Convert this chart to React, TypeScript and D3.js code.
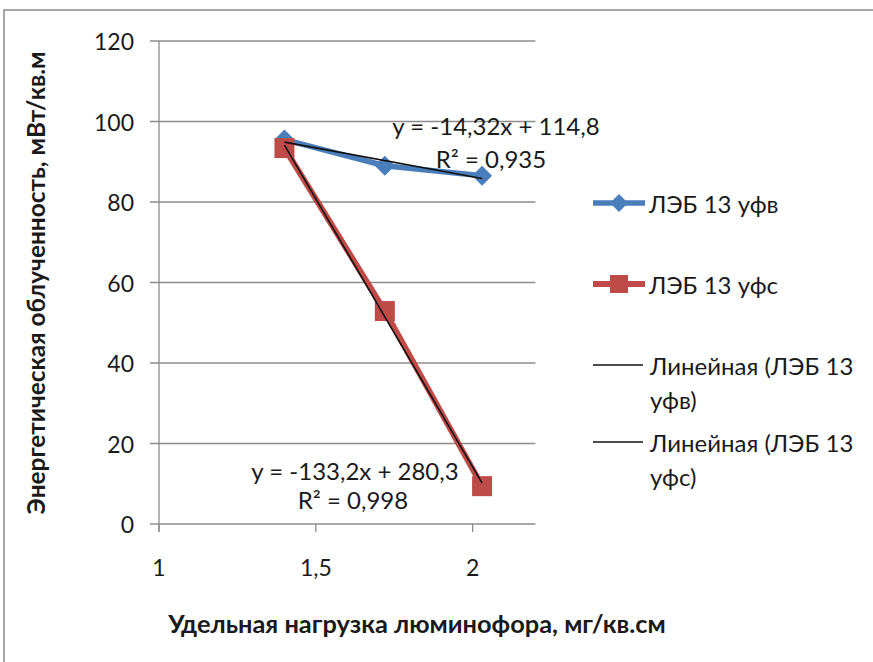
import * as d3 from "d3";

// data
const loads = [1.4, 1.72, 2.03];
const seriesNames = ["ЛЭБ 13 уфв", "ЛЭБ 13 уфс"];
const uvbValues = [95.5, 89, 86.5];
const uvcValues = [93.4, 52.9, 9.4];
const xTicks = [1, 1.5, 2];
const yTicks = [0, 20, 40, 60, 80, 100, 120];
const trendLabels = [
  ["y = -14,32x + 114,8", "R² = 0,935"],
  ["y = -133,2x + 280,3", "R² = 0,998"],
];
const trendNames = ["Линейная (ЛЭБ 13", "уфв)", "Линейная (ЛЭБ 13", "уфс)"];

const FONT = "Lato, 'Open Sans', sans-serif";
const BLUE = "#4A7EBB";
const RED = "#BE4B48";
const GRID = "#8c8c8c";

// least squares fit for the trendlines
function fit(xs: number[], ys: number[]) {
  const mx = d3.mean(xs)!;
  const my = d3.mean(ys)!;
  const sxy = d3.sum(xs, (x, i) => (x - mx) * (ys[i] - my));
  const sxx = d3.sum(xs, (x) => (x - mx) * (x - mx));
  const k = sxy / sxx;
  return { k, b: my - k * mx };
}

export default function App() {
  const width = 873;
  const height = 662;

  const x = d3.scaleLinear().domain([1, 2.2]).range([159, 535.4]);
  const y = d3.scaleLinear().domain([0, 120]).range([524, 41]);

  const line = d3
    .line<number>()
    .x((_, i) => x(loads[i]))
    .y((d) => y(d));

  const [x0, x1] = d3.extent(loads) as [number, number];
  const trends = [uvbValues, uvcValues].map((vals) => {
    const { k, b } = fit(loads, vals);
    return [
      [x(x0), y(k * x0 + b)],
      [x(x1), y(k * x1 + b)],
    ];
  });

  const diamond = (cx: number, cy: number, r = 10) =>
    `M${cx},${cy - r}L${cx + r},${cy}L${cx},${cy + r}L${cx - r},${cy}Z`;

  const tickStyle = { fontFamily: FONT, fontSize: 23, fill: "#1a1a1a" };
  const textStyle = { fontFamily: FONT, fontSize: 24, fill: "#1a1a1a" };

  return (
    <svg
      width={width}
      height={height}
      style={{ position: "absolute", left: 0, top: 0, background: "#fff" }}
    >
      {/* chart frame, cut at right and bottom */}
      <path d={`M4,${height}V10H${width}`} fill="none" stroke="#8a8a8a" strokeWidth={1.5} />

      {/* gridlines + y ticks */}
      {yTicks.map((t) => (
        <g key={t}>
          <line x1={150} x2={535.4} y1={y(t)} y2={y(t)} stroke={GRID} strokeWidth={1.3} />
          <text x={134} y={y(t)} textAnchor="end" dominantBaseline="central" style={tickStyle}>
            {t}
          </text>
        </g>
      ))}

      {/* y axis */}
      <line x1={159} x2={159} y1={41} y2={532} stroke={GRID} strokeWidth={1.3} />

      {/* x ticks */}
      {xTicks.map((t) => (
        <g key={t}>
          <line x1={x(t)} x2={x(t)} y1={524} y2={532} stroke={GRID} strokeWidth={1.3} />
          <text x={x(t)} y={567} textAnchor="middle" dominantBaseline="central" style={tickStyle}>
            {String(t).replace(".", ",")}
          </text>
        </g>
      ))}

      {/* series lines */}
      <path d={line(uvbValues) ?? ""} fill="none" stroke={BLUE} strokeWidth={5.5} strokeLinejoin="round" />
      <path d={line(uvcValues) ?? ""} fill="none" stroke={RED} strokeWidth={6} strokeLinejoin="round" />

      {/* markers */}
      {uvbValues.map((v, i) => (
        <path key={"b" + i} d={diamond(x(loads[i]), y(v))} fill={BLUE} />
      ))}
      {uvcValues.map((v, i) => (
        <rect key={"r" + i} x={x(loads[i]) - 10} y={y(v) - 10} width={20} height={20} fill={RED} />
      ))}

      {/* trendlines */}
      {trends.map((t, i) => (
        <line key={i} x1={t[0][0]} y1={t[0][1]} x2={t[1][0]} y2={t[1][1]} stroke="#111" strokeWidth={1.6} />
      ))}

      {/* trend equations */}
      <text textAnchor="middle" style={textStyle}>
        <tspan x={496} y={135}>{trendLabels[0][0]}</tspan>
        <tspan x={491} y={168}>{trendLabels[0][1]}</tspan>
      </text>
      <text textAnchor="middle" style={textStyle}>
        <tspan x={355} y={480}>{trendLabels[1][0]}</tspan>
        <tspan x={353} y={509}>{trendLabels[1][1]}</tspan>
      </text>

      {/* legend */}
      <g>
        <line x1={593} x2={645} y1={203} y2={203} stroke={BLUE} strokeWidth={5.5} />
        <path d={diamond(619, 203, 9)} fill={BLUE} />
        <text x={649} y={203} dominantBaseline="central" style={textStyle}>{seriesNames[0]}</text>

        <line x1={593} x2={645} y1={284} y2={284} stroke={RED} strokeWidth={6} />
        <rect x={610} y={275} width={18} height={18} fill={RED} />
        <text x={649} y={284} dominantBaseline="central" style={textStyle}>{seriesNames[1]}</text>

        <line x1={593} x2={643} y1={365} y2={365} stroke="#111" strokeWidth={1.6} />
        <text x={650} y={365} dominantBaseline="central" style={textStyle}>{trendNames[0]}</text>
        <text x={650} y={399} dominantBaseline="central" style={textStyle}>{trendNames[1]}</text>

        <line x1={593} x2={643} y1={442} y2={442} stroke="#111" strokeWidth={1.6} />
        <text x={650} y={442} dominantBaseline="central" style={textStyle}>{trendNames[2]}</text>
        <text x={650} y={476} dominantBaseline="central" style={textStyle}>{trendNames[3]}</text>
      </g>

      {/* axis titles */}
      <text
        x={417}
        y={623}
        textAnchor="middle"
        dominantBaseline="central"
        style={{ ...textStyle, fontSize: 25.4, fontWeight: 700 }}
      >
        Удельная нагрузка люминофора, мг/кв.см
      </text>
      <text
        transform="translate(35,283) rotate(-90)"
        textAnchor="middle"
        dominantBaseline="central"
        style={{ ...textStyle, fontSize: 24.4, fontWeight: 700 }}
      >
        Энергетическая облученность, мВт/кв.м
      </text>
    </svg>
  );
}
